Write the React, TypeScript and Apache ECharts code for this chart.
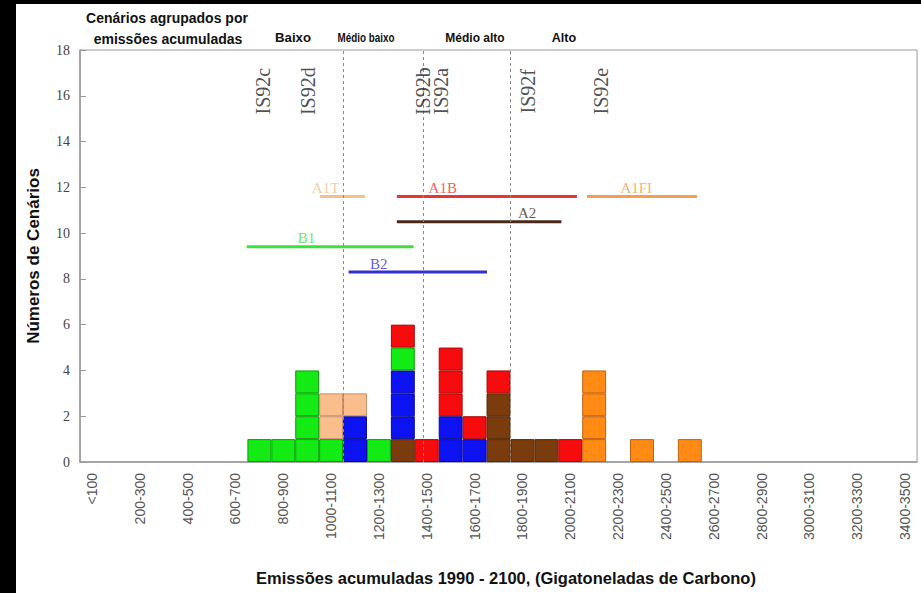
import React, { useEffect, useRef } from 'react';
import * as echarts from 'echarts';

const binLabels = [
  '<100', '100-200', '200-300', '300-400', '400-500', '500-600', '600-700', '700-800', '800-900', '900-1000',
  '1000-1100', '1100-1200', '1200-1300', '1300-1400', '1400-1500', '1500-1600', '1600-1700', '1700-1800', '1800-1900', '1900-2000',
  '2000-2100', '2100-2200', '2200-2300', '2300-2400', '2400-2500', '2500-2600', '2600-2700', '2700-2800', '2800-2900', '2900-3000',
  '3000-3100', '3100-3200', '3200-3300', '3300-3400', '3400-3500',
];

// scenario counts per bin, stacked bottom to top in this order
const countsA2 = [0, 0, 0, 0, 0, 0, 0, 0, 0, 0, 0, 0, 0, 1, 0, 0, 0, 3, 1, 1, 0, 0, 0, 0, 0, 0, 0, 0, 0, 0, 0, 0, 0, 0, 0];
const countsB2 = [0, 0, 0, 0, 0, 0, 0, 0, 0, 0, 0, 2, 0, 3, 0, 2, 1, 0, 0, 0, 0, 0, 0, 0, 0, 0, 0, 0, 0, 0, 0, 0, 0, 0, 0];
const countsB1 = [0, 0, 0, 0, 0, 0, 0, 1, 1, 4, 1, 0, 1, 1, 0, 0, 0, 0, 0, 0, 0, 0, 0, 0, 0, 0, 0, 0, 0, 0, 0, 0, 0, 0, 0];
const countsA1T = [0, 0, 0, 0, 0, 0, 0, 0, 0, 0, 2, 1, 0, 0, 0, 0, 0, 0, 0, 0, 0, 0, 0, 0, 0, 0, 0, 0, 0, 0, 0, 0, 0, 0, 0];
const countsA1B = [0, 0, 0, 0, 0, 0, 0, 0, 0, 0, 0, 0, 0, 1, 1, 3, 1, 1, 0, 0, 1, 0, 0, 0, 0, 0, 0, 0, 0, 0, 0, 0, 0, 0, 0];
const countsA1FI = [0, 0, 0, 0, 0, 0, 0, 0, 0, 0, 0, 0, 0, 0, 0, 0, 0, 0, 0, 0, 0, 4, 0, 1, 0, 1, 0, 0, 0, 0, 0, 0, 0, 0, 0];

const families = [
  { name: 'A2', counts: countsA2, fill: '#7a3c0c', border: '#552806' },
  { name: 'B2', counts: countsB2, fill: '#0c12f0', border: '#0a0a98' },
  { name: 'B1', counts: countsB1, fill: '#14ea14', border: '#0c9c0c' },
  { name: 'A1T', counts: countsA1T, fill: '#f9be8c', border: '#c8906a' },
  { name: 'A1B', counts: countsA1B, fill: '#f60c0c', border: '#a80808' },
  { name: 'A1FI', counts: countsA1FI, fill: '#ff8a14', border: '#c06010' },
];

// family ranges (GtC) drawn as horizontal lines
const rangeNames = ['A1T', 'A1B', 'A1FI', 'A2', 'B1', 'B2'];
const rangeStart = [1004, 1325, 2120, 1325, 697, 1123];
const rangeEnd = [1192, 2078, 2580, 2013, 1395, 1702];
const rangeLevel = [11.6, 11.6, 11.6, 10.5, 9.4, 8.3];
const rangeLabelX = [1027, 1517, 2326, 1870, 947, 1249];
const rangeColors = ['#f2c08c', '#e83434', '#f0a050', '#4a2818', '#3ee03e', '#3030d0'];

// IS92 scenario positions (GtC)
const is92Names = ['IS92c', 'IS92d', 'IS92b', 'IS92a', 'IS92f', 'IS92e'];
const is92X = [765, 955, 1435, 1510, 1875, 2180];

// group boundaries (GtC)
const groupBounds = [1100, 1435, 1800];
const groupNames = ['Baixo', 'Médio baixo', 'Médio alto', 'Alto'];

const SERIF = '"Liberation Serif", "Times New Roman", serif';
const SANS = '"Liberation Sans", Arial, sans-serif';

export default function App() {
  const ref = useRef<HTMLDivElement>(null);
  useEffect(() => {
    if (!ref.current) return;
    const chart = echarts.init(ref.current, undefined, { renderer: 'svg' });

    const barSeries: any[] = [];
    families.forEach((f) => {
      const max = Math.max(...f.counts);
      for (let j = 1; j <= max; j++) {
        barSeries.push({
          type: 'bar',
          name: f.name,
          stack: 'total',
          xAxisIndex: 0,
          barWidth: '100%',
          z: 3,
          data: f.counts.map((c) => (c >= j ? 1 : '-')),
          itemStyle: { color: f.fill, borderColor: f.border, borderWidth: 1 },
        });
      }
    });

    const rangeSeries = rangeNames.map((n, i) => ({
      type: 'line',
      name: n,
      xAxisIndex: 1,
      symbol: 'none',
      z: 4,
      data: [[rangeStart[i], rangeLevel[i]], [rangeEnd[i], rangeLevel[i]]],
      lineStyle: { color: rangeColors[i], width: 3 },
    }));

    const headerX = [293, 366, 475, 564];
    const headerScale = [1.1, 0.82, 1.0, 1.05];

    const option: any = {
      animation: false,
      backgroundColor: '#ffffff',
      grid: { left: 80, right: 4, top: 50, bottom: 131, show: true, borderColor: '#9a9a9a', borderWidth: 1 },
      xAxis: [
        {
          type: 'category',
          data: binLabels,
          boundaryGap: true,
          axisLine: { lineStyle: { color: '#999', width: 1.5 } },
          axisTick: { interval: 0, length: 5, lineStyle: { color: '#999' } },
          axisLabel: { interval: 1, rotate: 90, fontFamily: SANS, fontSize: 14, color: '#555', margin: 11 },
          splitLine: { show: false },
        },
        { type: 'value', min: 0, max: 3500, show: false },
      ],
      yAxis: {
        type: 'value',
        min: 0,
        max: 18,
        interval: 2,
        name: 'Números de Cenários',
        nameLocation: 'middle',
        nameGap: 38,
        nameTextStyle: { fontFamily: SANS, fontWeight: 'bold', fontSize: 17, color: '#111' },
        axisLine: { show: true, lineStyle: { color: '#999', width: 1.5 } },
        axisTick: { show: true, inside: true, length: 6, lineStyle: { color: '#999' } },
        axisLabel: { fontFamily: SERIF, fontSize: 14, color: '#444', margin: 10 },
        splitLine: { show: false },
      },
      series: [
        {
          type: 'line',
          xAxisIndex: 1,
          data: [],
          z: 1,
          markLine: {
            silent: true,
            symbol: 'none',
            label: { show: false },
            lineStyle: { color: '#8a8a8a', type: [3, 3], width: 1 },
            data: groupBounds.map((b) => ({ xAxis: b })),
          },
        },
        ...barSeries,
        ...rangeSeries,
        {
          type: 'scatter',
          xAxisIndex: 1,
          symbolSize: 0,
          z: 5,
          data: rangeNames.map((n, i) => ({
            name: n,
            value: [rangeLabelX[i], rangeLevel[i]],
            label: { color: rangeColors[i] },
          })),
          label: {
            show: true,
            position: 'top',
            distance: 1,
            formatter: '{b}',
            fontFamily: SERIF,
            fontSize: 15,
          },
        },
        {
          type: 'scatter',
          xAxisIndex: 1,
          symbolSize: 0,
          z: 5,
          data: is92Names.map((n, i) => ({ name: n, value: [is92X[i], 16.2] })),
          label: {
            show: true,
            position: 'inside',
            rotate: 90,
            formatter: '{b}',
            fontFamily: SERIF,
            fontSize: 20,
            color: '#222',
          },
        },
      ],
      graphic: [
        { type: 'rect', shape: { x: 0, y: 0, width: 16, height: 593 }, style: { fill: '#000' }, z: 100 },
        { type: 'rect', shape: { x: 0, y: 0, width: 921, height: 4 }, style: { fill: '#000' }, z: 100 },
        {
          type: 'text', x: 167, y: 18,
          style: { text: 'Cenários agrupados por', font: `bold 14px ${SANS}`, fill: '#111', align: 'center', verticalAlign: 'middle' },
        },
        {
          type: 'text', x: 168, y: 39,
          style: { text: 'emissões acumuladas', font: `bold 14px ${SANS}`, fill: '#111', align: 'center', verticalAlign: 'middle' },
        },
        ...groupNames.map((g, i) => ({
          type: 'text', x: headerX[i], y: 38, scaleX: headerScale[i],
          style: { text: g, font: `bold 12px ${SANS}`, fill: '#111', align: 'center', verticalAlign: 'middle' },
        })),
        {
          type: 'text', x: 506, y: 578,
          style: {
            text: 'Emissões acumuladas 1990 - 2100, (Gigatoneladas de Carbono)',
            font: `bold 16.5px ${SANS}`, fill: '#111', align: 'center', verticalAlign: 'middle',
          },
        },
      ],
    };
    chart.setOption(option);
    return () => chart.dispose();
  }, []);

  return <div ref={ref} style={{ position: 'fixed', left: 0, top: 0, width: 921, height: 593 }} />;
}
